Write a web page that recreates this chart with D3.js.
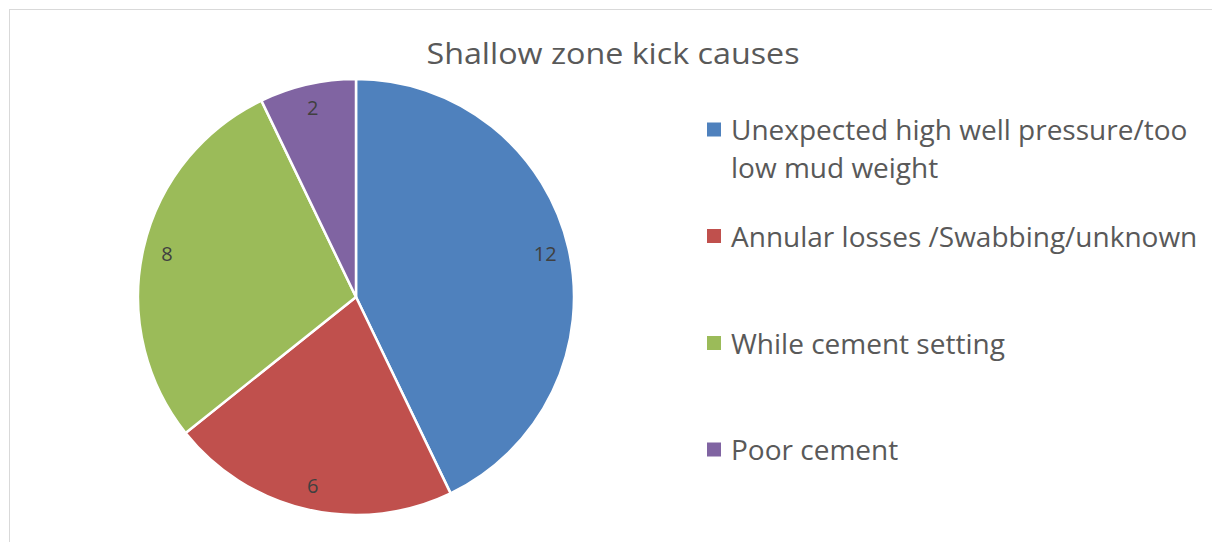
<!DOCTYPE html>
<html>
<head>
<meta charset="utf-8">
<script src="https://cdn.jsdelivr.net/npm/d3@7"></script>
<style>
  body { margin: 0; background: #fff; }
  svg { display: block; font-family: "Open Sans", "Noto Sans", sans-serif; }
</style>
</head>
<body>
<div id="chart"></div>
<script>
// chart data
const CAUSES = ["Unexpected high well pressure/too low mud weight",
                "Annular losses /Swabbing/unknown",
                "While cement setting",
                "Poor cement"];
const LEGEND_LINES = [["Unexpected high well pressure/too", "low mud weight"],
                      ["Annular losses /Swabbing/unknown"],
                      ["While cement setting"],
                      ["Poor cement"]];
const COUNTS = [12, 6, 8, 2];
const COLORS = ["#4f81bd", "#c0504d", "#9bbb59", "#8064a2"];
const TITLE = "Shallow zone kick causes";

const FRAME_WIDTH = 1212;
const FRAME_HEIGHT = 542;
const CENTER = {x: 356, y: 297};
const RADIUS = 218;

const svg = d3.select("#chart")
  .append("svg")
    .attr("width", FRAME_WIDTH)
    .attr("height", FRAME_HEIGHT);

// chart area border
svg.append("rect")
  .attr("x", 9.5).attr("y", 9.5)
  .attr("width", FRAME_WIDTH + 20).attr("height", FRAME_HEIGHT + 20)
  .attr("fill", "none")
  .attr("stroke", "#d9d9d9")
  .attr("stroke-width", 1);

// title
svg.append("text")
  .attr("x", 613).attr("y", 64)
  .attr("text-anchor", "middle")
  .attr("font-size", "29px")
  .attr("fill", "#595959")
  .attr("textLength", 373)
  .attr("lengthAdjust", "spacingAndGlyphs")
  .text(TITLE);

const data = CAUSES.map((c, i) => ({cause: c, count: COUNTS[i], color: COLORS[i]}));

const pie = d3.pie().sort(null).value(d => d.count);
const arc = d3.arc().innerRadius(0).outerRadius(RADIUS);
const labelArc = d3.arc().innerRadius(RADIUS * 0.89).outerRadius(RADIUS * 0.89);

const g = svg.append("g")
  .attr("transform", "translate(" + CENTER.x + "," + CENTER.y + ")");

const arcs = pie(data);

g.selectAll("path")
  .data(arcs)
  .enter()
  .append("path")
    .attr("d", arc)
    .attr("fill", d => d.data.color)
    .attr("stroke", "#fff")
    .attr("stroke-width", 2.5)
    .attr("stroke-linejoin", "round");

g.selectAll(".val")
  .data(arcs)
  .enter()
  .append("text")
    .attr("class", "val")
    .attr("transform", d => "translate(" + labelArc.centroid(d) + ")")
    .attr("text-anchor", "middle")
    .attr("dy", "0.36em")
    .attr("font-size", "20px")
    .attr("fill", "#404040")
    .text(d => d.data.count);

// legend
const legendY = [129.5, 236, 343, 449.5];
const legend = svg.selectAll(".legend")
  .data(data)
  .enter()
  .append("g")
    .attr("class", "legend")
    .attr("transform", (d, i) => "translate(707," + legendY[i] + ")");

legend.append("rect")
  .attr("x", 0).attr("y", -7)
  .attr("width", 14).attr("height", 14)
  .attr("fill", d => d.color);

legend.each(function(d, i) {
  const t = d3.select(this).append("text")
    .attr("font-size", "28px")
    .attr("fill", "#595959");
  LEGEND_LINES[i].forEach((line, j) => {
    t.append("tspan")
      .attr("x", 24)
      .attr("y", 10.5 + j * 38)
      .text(line);
  });
});
</script>
</body>
</html>
